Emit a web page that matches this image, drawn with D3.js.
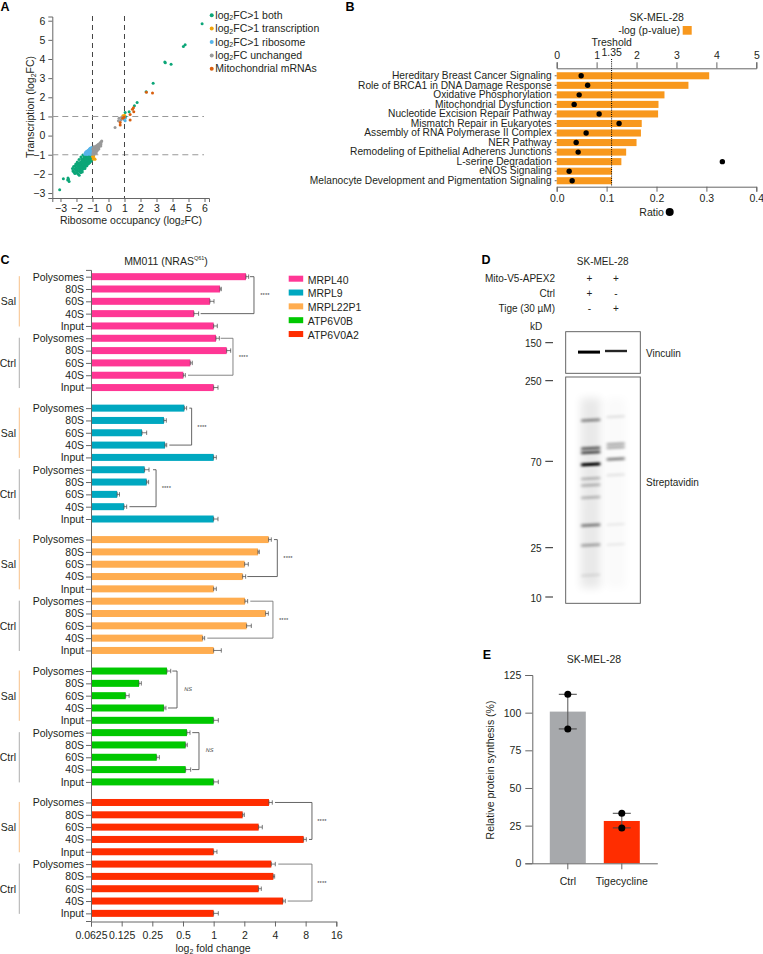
<!DOCTYPE html>
<html>
  <head>
    <title></title>
    <script src="https://d3js.org/d3.v7.min.js"></script>
    <style type="text/css">
      body { margin: 0; background: #ffffff; }
      svg { display: block; }
      text { font-family: 'Liberation Sans', Arial, sans-serif; font-size: 10.5px; fill: #231f20; }
      .axis path, .axis line { stroke: #666666; stroke-width: 1; }
      .axis text { font-size: 10.5px; fill: #231f20; }
      .letter { font-weight: bold; font-size: 12.5px; fill: #000000; }
    </style>
  </head>
  <body>
    <svg id="fig" width="763" height="954"></svg>
    <script type="text/javascript">
      // A - scatter, [ribosome occupancy, transcription]
      var ptsBoth = [[5.85,5.84],[4.79,4.74],[4.68,4.65],[3.52,3.84],[3.55,3.81],[3.91,3.73],[2.79,2.74],[2.35,2.29],[1.79,1.73],[1.62,1.56],[1.29,1.24],[1.04,1.21],[1.07,0.98],
        [-3.05,-2.83],[-2.82,-2.26],[-2.53,-2.22],[-2.46,-2.40],[-2.55,-2.32],[-2.50,-2.28],
        [-2.25,-1.72],[-2.22,-1.85],[-2.18,-1.62],[-2.15,-1.92],[-2.12,-1.75],[-2.10,-1.98],[-2.08,-1.58],[-2.05,-1.83],[-2.02,-1.68],[-2.0,-1.95],
        [-1.98,-1.52],[-1.96,-1.78],[-1.93,-1.88],[-1.92,-1.62],[-1.90,-2.0],[-1.88,-1.45],[-1.86,-1.72],[-1.85,-1.55],[-1.83,-2.07],[-1.82,-1.85],[-1.80,-1.66],
        [-1.78,-1.40],[-1.76,-1.78],[-1.75,-1.52],[-1.73,-1.93],[-1.72,-1.60],[-1.70,-1.35],[-1.69,-1.70],[-1.67,-1.47],[-1.66,-1.84],[-1.65,-1.56],
        [-1.63,-1.28],[-1.62,-1.64],[-1.60,-1.42],[-1.59,-1.75],[-1.58,-1.52],[-1.56,-1.22],[-1.55,-1.60],[-1.53,-1.36],[-1.52,-1.68],[-1.50,-1.47],
        [-1.49,-1.17],[-1.48,-1.55],[-1.46,-1.30],[-1.45,-1.62],[-1.43,-1.41],[-1.42,-1.12],[-1.41,-1.50],[-1.39,-1.24],[-1.38,-1.57],[-1.36,-1.35],
        [-1.35,-1.08],[-1.34,-1.45],[-1.32,-1.18],[-1.31,-1.50],[-1.30,-1.30],[-1.28,-1.04],[-1.27,-1.40],[-1.26,-1.12],[-1.24,-1.46],[-1.23,-1.25],
        [-1.22,-1.02],[-1.20,-1.35],[-1.19,-1.08],[-1.18,-1.42],[-1.16,-1.20],[-1.15,-1.30],[-1.14,-1.03],[-1.12,-1.36],[-1.11,-1.14],[-1.10,-1.25],
        [-1.08,-1.05],[-1.07,-1.32],[-1.06,-1.18],[-1.05,-1.10],[-1.03,-1.26],[-1.02,-1.03],[-1.01,-1.15],[-1.60,-1.02],[-1.45,-1.03],[-1.72,-1.12],
        [-1.95,-1.38],[-1.84,-1.25],[-2.04,-1.48],[-1.68,-1.22],[-1.54,-1.12],[-1.75,-1.92],[-1.64,-1.90],[-1.47,-1.72],[-1.35,-1.58],[-2.0,-1.75],[-1.90,-1.55],[-1.80,-1.48],[-1.58,-1.33],[-1.44,-1.22],[-1.30,-1.13]];
      var ptsTranscription = [[-1.0,-1.09],[-0.96,-1.22],[-0.88,-1.21],[-0.92,-1.05],[-0.95,-1.15],[-0.84,-1.23],[-0.98,-1.02],[0.90,1.03],[1.0,1.06]];
      var ptsRibosome = [[1.04,0.78],[0.98,0.84],[1.06,0.92],
        [-1.48,-0.98],[-1.45,-0.90],[-1.42,-0.96],[-1.40,-0.84],[-1.37,-0.92],[-1.35,-0.98],[-1.33,-0.80],[-1.30,-0.88],[-1.28,-0.95],[-1.26,-0.76],[-1.24,-0.84],[-1.22,-0.92],
        [-1.20,-0.72],[-1.18,-0.80],[-1.16,-0.97],[-1.14,-0.88],[-1.12,-0.70],[-1.10,-0.76],[-1.08,-0.84],[-1.06,-0.93],[-1.04,-0.66],[-1.03,-0.72],[-1.02,-0.80],[-1.01,-0.88],[-1.15,-0.66],[-1.06,-0.62],[-1.30,-0.98],[-1.10,-0.98]];
      var ptsUnchanged = [[0.41,0.42],[0.62,0.78],[0.78,0.82],[0.66,0.9],[0.82,0.96],
        [-0.98,-0.96],[-0.96,-0.86],[-0.94,-0.74],[-0.93,-0.66],[-0.91,-0.98],[-0.90,-0.80],[-0.88,-0.68],[-0.87,-0.90],[-0.85,-0.60],[-0.84,-0.76],[-0.82,-0.84],[-0.80,-0.66],[-0.79,-0.56],
        [-0.78,-0.92],[-0.76,-0.72],[-0.75,-0.60],[-0.73,-0.82],[-0.72,-0.52],[-0.70,-0.66],[-0.68,-0.74],[-0.67,-0.56],[-0.65,-0.47],[-0.63,-0.62],[-0.61,-0.52],[-0.60,-0.70],[-0.58,-0.44],
        [-0.56,-0.56],[-0.54,-0.40],[-0.52,-0.50],[-0.50,-0.36],[-0.47,-0.44],[-0.45,-0.32],[-0.42,-0.28],[-0.48,-0.54],[-0.98,-0.70],[-0.92,-0.58]];
      var ptsMito = [[2.37,2.26],[2.75,2.22],[1.56,1.45],[1.50,1.37],[1.58,1.24],[1.35,1.10],[1.35,0.81],[0.98,0.96],[0.89,0.90],[0.73,0.68],[0.73,0.55]];
      var scatterLegend = ['both', 'transcription', 'ribosome', 'unchanged', 'mito'];

      // B - pathways
      var pathways = ['Hereditary Breast Cancer Signaling', 'Role of BRCA1 in DNA Damage Response', 'Oxidative Phosphorylation', 'Mitochondrial Dysfunction', 'Nucleotide Excision Repair Pathway', 'Mismatch Repair in Eukaryotes', 'Assembly of RNA Polymerase II Complex', 'NER Pathway', 'Remodeling of Epithelial Adherens Junctions', 'L-serine Degradation', 'eNOS Signaling', 'Melanocyte Development and Pigmentation Signaling'];
      var pValues = [3.82, 3.30, 2.70, 2.55, 2.54, 2.13, 2.11, 2.0, 1.74, 1.62, 1.385, 1.385];
      var ratios = [0.049, 0.062, 0.045, 0.035, 0.085, 0.125, 0.059, 0.039, 0.043, 0.332, 0.025, 0.031];
      var thresholdDrawn = 1.375;

      // C - fold change per fraction, each gene is Sal then Ctrl
      var genes = ['MRPL40', 'MRPL9', 'MRPL22P1', 'ATP6V0B', 'ATP6V0A2'];
      var geneColors = ['#ff3795', '#00a8c0', '#ffad50', '#00c800', '#ff2d00'];
      var fractions = ['Polysomes', '80S', '60S', '40S', 'Input'];
      var treatments = ['Sal', 'Ctrl'];
      var foldMean = [
        [2.077, 1.154, 0.920, 0.641, 1, 1.054, 1.342, 0.590, 0.504, 1],
        [0.515, 0.325, 0.198, 0.333, 1, 0.210, 0.220, 0.113, 0.132, 1],
        [3.466, 2.724, 2.015, 1.926, 1, 2.030, 3.239, 2.108, 0.780, 1],
        [0.348, 0.185, 0.137, 0.325, 1, 0.547, 0.531, 0.276, 0.531, 1],
        [3.492, 1.926, 2.765, 7.648, 1, 3.682, 3.853, 2.765, 4.793, 1]
      ];
      var foldUpper = [
        [2.206, 1.189, 1.008, 0.712, 1.086, 1.137, 1.469, 0.617, 0.527, 1.103],
        [0.543, 0.343, 0.220, 0.346, 1.062, 0.232, 0.230, 0.119, 0.140, 1.103],
        [3.682, 2.807, 2.189, 2.061, 1.062, 2.157, 3.441, 2.343, 0.816, 1.189],
        [0.379, 0.195, 0.148, 0.340, 1.111, 0.586, 0.551, 0.293, 0.595, 1.111],
        [3.766, 2.0, 3.004, 8.123, 1.078, 4.03, 3.97, 2.937, 5.05, 1.111]
      ];
      // comparison brackets Polysomes vs 40S: top arm start, bottom arm start, spine, label (fold change units)
      var brackets = [
        [[2.27, 0.745, 2.488, 3.19], [1.171, 0.560, 1.548, 1.957]],
        [[0.577, 0.367, 0.608, 0.768], [0.254, 0.149, 0.272, 0.343]],
        [[3.91, 2.14, 4.216, 5.37], [2.29, 0.866, 3.82, 4.87]],
        [[0.393, 0.356, 0.437, 0.56], [0.617, 0.613, 0.718, 0.914]],
        [[4.0, 8.63, 9.23, 11.57], [4.31, 5.33, 9.23, 11.57]]
      ];
      var bracketLabels = [['****', '****'], ['****', '****'], ['****', '****'], ['NS', 'NS'], ['****', '****']];
      var foldTicks = [0.0625, 0.125, 0.25, 0.5, 1, 2, 4, 8, 16];

      // D - blot, apparent kD and darkness of each band
      var markersVinculin = [150];
      var markersStrep = [250, 70, 25, 10];
      var vinculinDark = [1, 0.85];
      var lane1Kd = [134, 86, 80.6, 67.5, 57, 52.7, 45.5, 32.7, 25.8, 15];
      var lane1Dark = [0.38, 0.55, 0.62, 1, 0.2, 0.22, 0.2, 0.42, 0.28, 0.07];
      var lane2Kd = [141.6, 92, 87, 72.6, 59.5, 33, 26];
      var lane2Dark = [0.08, 0.28, 0.26, 0.42, 0.07, 0.05, 0.05];

      // E - protein synthesis
      var synthGroups = ['Ctrl', 'Tigecycline'];
      var synthMeans = [100.7, 28.1];
      var synthDots = [[112.2, 89.2], [33.2, 23.5]];
      var synthTicks = [0, 25, 50, 75, 100, 125];

      var svg = d3.select('#fig');

      function label (x, y, txt, anchor, parent) {
        return (parent || svg).append('text')
          .attr('x', x).attr('y', y)
          .attr('text-anchor', anchor || 'start')
          .attr('dominant-baseline', 'central')
          .text(txt);
      }

      // text with a small subscript 2 after "log"
      function logLabel (sel, before, after) {
        sel.append('tspan').text(before + 'log');
        sel.append('tspan').attr('dy', 2.5).style('font-size', '7px').text('2');
        sel.append('tspan').attr('dy', -2.5).text(after);
        return sel;
      }

      [['A', 5, 7], ['B', 350, 7], ['C', 5, 260], ['D', 486, 260], ['E', 487, 655]].forEach(function (d) {
        label(d[1], d[2], d[0], 'middle').attr('class', 'letter');
      });

      function drawScatter () {
        var x = d3.scaleLinear().domain([-3.511, 6.28]).range([52.3, 209]);
        var y = d3.scaleLinear().domain([-3.26, 6.22]).range([198, 16.5]);
        var g = svg.append('g');

        g.append('g').attr('class', 'axis').attr('transform', 'translate(0,198)')
          .call(d3.axisBottom(x).tickValues(d3.range(-3, 7)).tickFormat(d3.format('d')).tickSizeOuter(0).tickSize(4));
        g.append('g').attr('class', 'axis').attr('transform', 'translate(52.3,0)')
          .call(d3.axisLeft(y).tickValues(d3.range(-3, 7)).tickFormat(d3.format('d')).tickSizeOuter(0).tickSize(4));

        [-1, 1].forEach(function (v) {
          g.append('line').attr('x1', x(v)).attr('x2', x(v)).attr('y1', 16).attr('y2', 198)
            .attr('stroke', '#444').attr('stroke-dasharray', '5,4');
          g.append('line').attr('x1', 52.3).attr('x2', 204).attr('y1', y(v)).attr('y2', y(v))
            .attr('stroke', '#999').attr('stroke-width', 1.1).attr('stroke-dasharray', '6,4');
        });

        var sets = {
          both: {pts: ptsBoth, color: '#0ca678', name: '>1 both'},
          transcription: {pts: ptsTranscription, color: '#f0a30a', name: '>1 transcription'},
          ribosome: {pts: ptsRibosome, color: '#56b4e9', name: '>1 ribosome'},
          unchanged: {pts: ptsUnchanged, color: '#999999', name: ' unchanged'},
          mito: {pts: ptsMito, color: '#d95f0e', name: 'Mitochondrial mRNAs'}
        };

        scatterLegend.forEach(function (key, i) {
          var s = sets[key];
          g.append('g').selectAll('circle').data(s.pts).enter().append('circle')
            .attr('cx', function (d) { return x(d[0]); })
            .attr('cy', function (d) { return y(d[1]); })
            .attr('r', 1.5)
            .attr('fill', s.color);

          var ly = 14.7 + i * 13.4;
          g.append('circle').attr('cx', 211.7).attr('cy', ly + 0.5).attr('r', 2).attr('fill', s.color);
          var t = label(215.3, ly, '');
          if (key == 'mito') {
            t.text(s.name);
          } else {
            t.append('tspan').text('log');
            t.append('tspan').attr('dy', 2.5).style('font-size', '7px').text('2');
            t.append('tspan').attr('dy', -2.5).text('FC' + s.name);
          }
        });

        logLabel(label(131, 219.5, '', 'middle'), 'Ribosome occupancy (', 'FC)');
        var yl = svg.append('text').attr('transform', 'translate(30,107) rotate(-90)').attr('text-anchor', 'middle').attr('dominant-baseline', 'central');
        logLabel(yl, 'Transcription (', 'FC)');
      }

      function drawPathways () {
        var p = d3.scaleLinear().domain([0, 5]).range([556.7, 756.3]);
        var r = d3.scaleLinear().domain([0, 0.4]).range([556.7, 756.3]);
        var y = d3.scaleBand().domain(pathways).range([71, 185.5]).paddingInner(0.26).paddingOuter(0.13);
        var g = svg.append('g');

        g.selectAll('.pbar').data(pathways).enter().append('rect')
          .attr('x', p(0))
          .attr('y', function (d) { return y(d); })
          .attr('width', function (d, i) { return p(pValues[i]) - p(0); })
          .attr('height', y.bandwidth())
          .attr('fill', '#f8981d');

        g.append('g').attr('class', 'axis').attr('transform', 'translate(0,68.3)')
          .call(d3.axisTop(p).ticks(5).tickFormat(d3.format('d')).tickSizeOuter(6).tickSize(6));
        g.append('g').attr('class', 'axis').attr('transform', 'translate(0,186.7)')
          .call(d3.axisBottom(r).tickValues([0, 0.1, 0.2, 0.3, 0.4]).tickFormat(d3.format('.1f')).tickSizeOuter(0).tickSize(5));
        var catAxis = g.append('g').attr('class', 'axis').attr('transform', 'translate(556.7,0)')
          .call(d3.axisLeft(y).tickSize(2).tickPadding(3).tickSizeOuter(0));
        catAxis.select('.domain').remove();
        catAxis.selectAll('text').style('font-size', '10.2px');

        g.append('line').attr('x1', p(thresholdDrawn)).attr('x2', p(thresholdDrawn)).attr('y1', 59).attr('y2', 186.7)
          .attr('stroke', '#000').attr('stroke-width', 1).attr('stroke-dasharray', '1,1.2');

        g.selectAll('.rdot').data(pathways).enter().append('circle')
          .attr('cx', function (d, i) { return r(ratios[i]); })
          .attr('cy', function (d) { return y(d) + y.bandwidth() / 2; })
          .attr('r', 2.7)
          .attr('fill', '#000');

        label(656.7, 16.7, 'SK-MEL-28', 'middle');
        label(680, 30, '-log (p-value)', 'end');
        g.append('rect').attr('x', 682.7).attr('y', 26).attr('width', 9).attr('height', 8.7).attr('fill', '#f8981d');
        label(611.7, 41.7, 'Treshold', 'middle');
        label(611.7, 52, '1.35', 'middle');
        label(639.3, 211.7, 'Ratio');
        g.append('circle').attr('cx', 669.7).attr('cy', 212).attr('r', 4).attr('fill', '#000');
      }

      function drawFoldChange () {
        var x = d3.scaleLog().base(2).domain([0.0625, 16]).range([91, 336.3]);
        var geneStep = 10.67;
        var y = d3.scaleLinear().domain([-0.55, 52.3]).range([269.9, 921]);
        var g = svg.append('g');
        var rowNames = fractions.concat(fractions);
        var rowTicks = [];

        genes.forEach(function (gene, gi) {
          var base = gi * geneStep;
          d3.range(10).forEach(function (r) { rowTicks.push({idx: base + r, name: rowNames[r]}); });

          var rows = g.append('g').selectAll('g').data(foldMean[gi]).enter().append('g');
          rows.append('rect')
            .attr('x', x(0.0625))
            .attr('y', function (d, r) { return y(base + r) - 3.5; })
            .attr('width', function (d) { return x(d) - x(0.0625); })
            .attr('height', 7)
            .attr('fill', geneColors[gi]);
          rows.append('path')
            .attr('d', function (d, r) {
              var ey = y(base + r), x0 = x(d), x1 = x(foldUpper[gi][r]);
              return 'M' + x0 + ',' + ey + 'H' + x1 + 'M' + x1 + ',' + (ey - 2.2) + 'V' + (ey + 2.2) + 'M' + x0 + ',' + (ey - 2.2) + 'V' + (ey + 2.2);
            })
            .attr('fill', 'none')
            .attr('stroke', '#444')
            .attr('stroke-width', 0.7);

          treatments.forEach(function (tr, ti) {
            var y0 = y(base + ti * 5), y3 = y(base + ti * 5 + 3), b = brackets[gi][ti];
            var isNs = bracketLabels[gi][ti] == 'NS';
            var bracketColor = (gi == 4 && ti == 1) || (gi == 2 && ti == 1) || (gi == 0 && ti == 1) ? '#777' : '#555';
            g.append('path')
              .attr('d', 'M' + x(b[0]) + ',' + y0 + 'H' + x(b[2]) + 'V' + y3 + 'H' + x(b[1]))
              .attr('fill', 'none').attr('stroke', bracketColor).attr('stroke-width', 0.9);
            var sig = label(x(b[3]), (y0 + y3) / 2 + (isNs ? 0 : 1.2), bracketLabels[gi][ti], 'middle')
              .style('font-size', isNs ? '5.5px' : '6px')
              .style('fill', '#333')
              .style('text-rendering', 'geometricPrecision');
            if (isNs) sig.style('font-style', 'italic');

            g.append('line').attr('x1', 19.3).attr('x2', 19.3)
              .attr('y1', y(base + ti * 5) - 0.5).attr('y2', y(base + ti * 5 + 4) + 0.5)
              .attr('stroke', ti == 0 ? '#f5b06a' : '#999').attr('stroke-width', 0.8);
            label(16, y(base + ti * 5 + 2), tr, 'end');
          });
        });

        var yAxis = g.append('g').attr('class', 'axis').attr('transform', 'translate(91,0)')
          .call(d3.axisLeft(y).tickValues(rowTicks.map(function (d) { return d.idx; }))
            .tickFormat(function (v) { return rowTicks.filter(function (d) { return d.idx == v; })[0].name; })
            .tickSizeOuter(0).tickSize(5).tickPadding(2));
        yAxis.select('.domain').attr('stroke', '#888').attr('stroke-width', 1.4);

        g.append('g').attr('class', 'axis').attr('transform', 'translate(0,921.5)')
          .call(d3.axisBottom(x).tickValues(foldTicks).tickFormat(function (d) { return String(d); }).tickSizeOuter(0).tickSize(5).tickPadding(5));

        logLabel(label(213, 948, '', 'middle'), '', ' fold change');

        var title = label(166, 261, '', 'middle');
        title.append('tspan').text('MM011 (NRAS');
        title.append('tspan').attr('dy', -3).style('font-size', '5.5px').text('Q61');
        title.append('tspan').attr('dy', 3).text(')');

        var leg = g.append('g').selectAll('g').data(genes).enter().append('g');
        leg.append('rect')
          .attr('x', 288.7)
          .attr('y', function (d, i) { return 275.7 + i * 13.83; })
          .attr('width', 14.5).attr('height', 6)
          .attr('fill', function (d, i) { return geneColors[i]; });
        leg.append('text')
          .attr('x', 307.7)
          .attr('y', function (d, i) { return 279.5 + i * 13.83; })
          .attr('dominant-baseline', 'central')
          .text(function (d) { return d; });
      }

      function drawBlot () {
        var kd = d3.scaleLog().domain([250, 70, 25, 10]).range([380.7, 461.3, 547.7, 597]);
        var kdTop = d3.scaleOrdinal().domain(markersVinculin).range([342.7]);
        var g = svg.append('g');
        var defs = svg.append('defs');
        defs.append('filter').attr('id', 'blurBand').attr('x', '-30%').attr('y', '-300%').attr('width', '160%').attr('height', '700%')
          .append('feGaussianBlur').attr('stdDeviation', '1.6,1.1');
        defs.append('filter').attr('id', 'blurThin').attr('x', '-20%').attr('y', '-200%').attr('width', '140%').attr('height', '500%')
          .append('feGaussianBlur').attr('stdDeviation', '0.6,0.55');
        defs.append('filter').attr('id', 'blurSmear').attr('x', '-60%').attr('y', '-20%').attr('width', '220%').attr('height', '140%')
          .append('feGaussianBlur').attr('stdDeviation', 4);
        defs.append('clipPath').attr('id', 'strepClip').append('rect').attr('x', 565.7).attr('y', 377).attr('width', 74.6).attr('height', 226.3);

        var lanes = [590.7, 615.7];
        var strep = g.append('g').attr('clip-path', 'url(#strepClip)');
        [0.085, 0.02].forEach(function (o, i) {
          strep.append('rect').attr('x', lanes[i] - 10).attr('y', 398).attr('width', 20).attr('height', 190)
            .attr('fill', '#000').attr('opacity', o).attr('filter', 'url(#blurSmear)');
        });

        [[lane1Kd, lane1Dark, 19], [lane2Kd, lane2Dark, 18]].forEach(function (l, i) {
          strep.selectAll('.b' + i).data(l[0]).enter().append('rect')
            .attr('x', lanes[i] - l[2] / 2)
            .attr('y', function (d) { return kd(d) - 1.6; })
            .attr('width', l[2]).attr('height', 3.2)
            .attr('fill', '#000')
            .attr('opacity', function (d, j) { return l[1][j]; })
            .attr('transform', function (d) { return 'rotate(-3 ' + lanes[i] + ' ' + kd(d) + ')'; })
            .attr('filter', 'url(#blurBand)');
        });

        vinculinDark.forEach(function (o, i) {
          g.append('rect').attr('x', i == 0 ? 578 : 605).attr('y', i == 0 ? 350.6 : 349.8)
            .attr('width', 22).attr('height', i == 0 ? 3 : 2.4).attr('fill', '#000').attr('opacity', o)
            .attr('filter', 'url(#blurThin)');
        });

        [[331.7, 41.6], [377, 226.3]].forEach(function (b) {
          g.append('rect').attr('x', 565.7).attr('y', b[0]).attr('width', 74.6).attr('height', b[1])
            .attr('fill', 'none').attr('stroke', '#555').attr('stroke-width', 0.9);
        });

        function marker (v, py) {
          g.append('line').attr('x1', 545.3).attr('x2', 553).attr('y1', py).attr('y2', py).attr('stroke', '#222').attr('stroke-width', 1);
          label(541.7, py + 1, v, 'end').style('font-size', '10px');
        }
        markersVinculin.forEach(function (v) { marker(v, kdTop(v)); });
        markersStrep.forEach(function (v) { marker(v, kd(v)); });

        label(602.7, 261.7, 'SK-MEL-28', 'middle').style('font-size', '10px');
        [['Mito-V5-APEX2', 278.3, '+', '+'], ['Ctrl', 293.7, '+', '-'], ['Tige (30 µM)', 308.7, '-', '+']].forEach(function (r) {
          label(555, r[1], r[0], 'end').style('font-size', '10px');
          label(589.3, r[1], r[2], 'middle').style('font-size', '10px');
          label(616, r[1], r[3], 'middle').style('font-size', '10px');
        });
        label(536, 326.7, 'kD', 'middle').style('font-size', '10px');
        label(646, 353.7, 'Vinculin').style('font-size', '10px');
        label(646, 482, 'Streptavidin').style('font-size', '10px');
      }

      function drawSynthesis () {
        var y = d3.scaleLinear().domain([0, 125]).range([863.3, 675]);
        var x = d3.scaleBand().domain(synthGroups).range([532.3, 657.3]).paddingInner(0.333).paddingOuter(0.324);
        var colors = ['#a7a9ac', '#ff2d00'];
        var g = svg.append('g');

        g.selectAll('.sbar').data(synthGroups).enter().append('rect')
          .attr('x', function (d) { return x(d); })
          .attr('y', function (d, i) { return y(synthMeans[i]); })
          .attr('width', x.bandwidth())
          .attr('height', function (d, i) { return y(0) - y(synthMeans[i]); })
          .attr('fill', function (d, i) { return colors[i]; });

        g.append('g').attr('class', 'axis').attr('transform', 'translate(532.3,0)')
          .call(d3.axisLeft(y).tickValues(synthTicks).tickSizeOuter(0).tickSize(7).tickPadding(4));
        g.append('g').attr('class', 'axis').attr('transform', 'translate(0,863.3)')
          .call(d3.axisBottom(x).tickSize(6).tickSizeOuter(0).tickPadding(8));

        synthGroups.forEach(function (name, i) {
          var cx = x(name) + x.bandwidth() / 2, vals = synthDots[i];
          g.append('line').attr('x1', cx).attr('x2', cx).attr('y1', y(vals[0])).attr('y2', y(vals[1])).attr('stroke', '#555');
          vals.forEach(function (v) {
            g.append('line').attr('x1', cx - 9).attr('x2', cx + 9).attr('y1', y(v)).attr('y2', y(v)).attr('stroke', '#444');
            g.append('circle').attr('cx', cx).attr('cy', y(v)).attr('r', 3.5).attr('fill', '#000');
          });
        });

        label(594, 659, 'SK-MEL-28', 'middle');
        svg.append('text').attr('transform', 'translate(490,770) rotate(-90)').attr('text-anchor', 'middle')
          .attr('dominant-baseline', 'central').text('Relative protein synthesis (%)');
      }

      drawScatter();
      drawPathways();
      drawFoldChange();
      drawBlot();
      drawSynthesis();
    </script>
  </body>
</html>
